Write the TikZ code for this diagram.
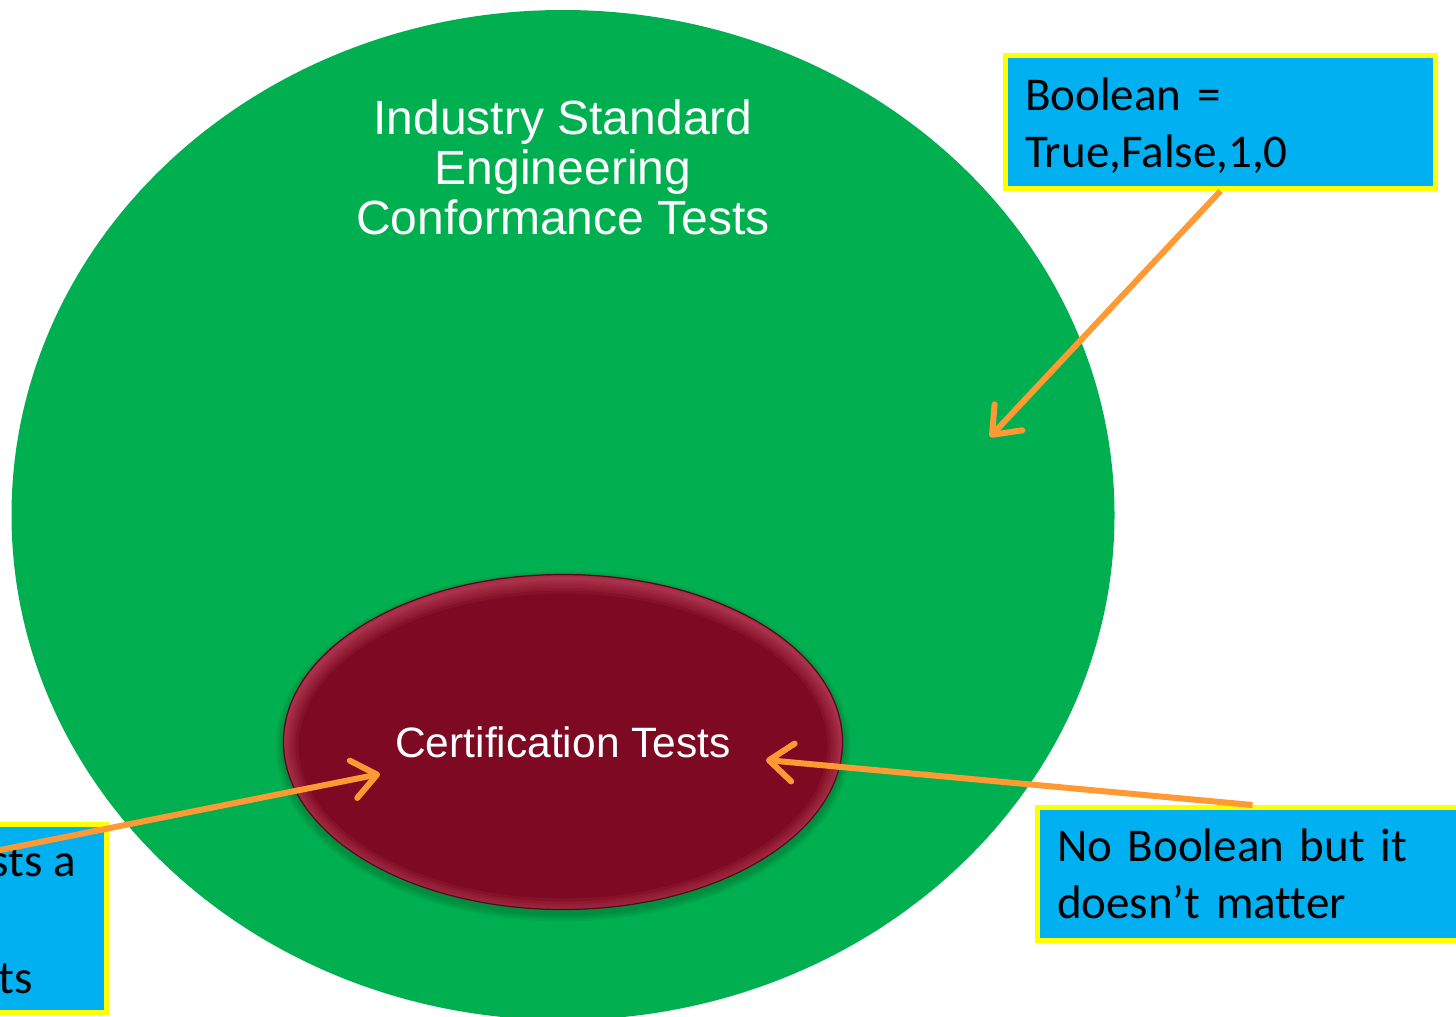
\documentclass[tikz,border=0pt]{standalone}
\usepackage{fontspec}
\setmainfont{Liberation Sans}
\newfontfamily\calibri[Ligatures=NoCommon]{Carlito}
\usetikzlibrary{arrows.meta,shapes.geometric}
\definecolor{cgreen}{HTML}{00B050}
\definecolor{cblue}{HTML}{00B0F0}
\definecolor{cyellow}{HTML}{FFFF00}
\definecolor{corange}{HTML}{FF9933}
\definecolor{cred}{HTML}{7D0A22}
\definecolor{cedge}{HTML}{D05470}
\definecolor{coutline}{HTML}{5A0616}
\begin{document}
\begin{tikzpicture}[x=1pt,y=-1pt,
  callout/.style={draw=cyellow, line width=5pt, fill=cblue, rectangle,
    minimum width=430pt, minimum height=133pt, inner xsep=19.5pt, inner ysep=0pt,
    text width=391pt, align=left, text=black,
    font=\calibri\fontsize{47pt}{57pt}\selectfont},
  callouttext/.style={inner sep=0pt, text=black, font=\calibri\fontsize{47pt}{57pt}\selectfont},
  pointer/.style={draw=corange, line width=6pt,
    -{Straight Barb[length=24pt,width=38pt,line cap=round,line join=round]}},
  whitetext/.style={text=white, inner sep=0pt},
]
\useasboundingbox (0,0) rectangle (1456,1017);
\fill[white] (0,0) rectangle (1456,1017);

% outer green ellipse
\node[ellipse, fill=cgreen, minimum width=1103pt, minimum height=1010pt, inner sep=0pt] (outer) at (563,515) {};
\node[whitetext, align=center, font=\fontsize{48pt}{50pt}\selectfont] (title) at (563,167)
  {Industry Standard\\Engineering\\Conformance Tests};

% soft shadow of the inner ellipse
\foreach \g in {2,4,6,8}
  \fill[black, opacity=0.05] (563,746) ellipse [x radius=279.5pt+\g pt, y radius=167.5pt+\g pt];

% inner red ellipse
\node[ellipse, fill=cred, minimum width=559pt, minimum height=335pt, inner sep=0pt] (cert) at (563,742) {};
\begin{scope}
  \clip (563,742) ellipse [x radius=279.5pt, y radius=167.5pt];
  \foreach \w in {30,24,19,14,10,6,3}
    \draw[cedge, opacity=0.11, line width=\w pt] (563,746) ellipse [x radius=279.5pt, y radius=167.5pt];
\end{scope}
\draw[coutline, line width=1.2pt] (563,742) ellipse [x radius=279.5pt, y radius=167.5pt];
\node[whitetext, font=\fontsize{42.5pt}{50pt}\selectfont] (certlabel) at (cert.center) {Certification Tests};

% callout boxes
\node[callout] (bool) at (1220.5,122) {\rule{0pt}{41pt}Boolean =\\True,False,1,0};
\node[callout] (nobool) at (1252.5,874) {No Boolean but it\\doesn’t matter};
\node[callout, minimum height=188pt] (conf) at (-108.5,918.5) {};
\node[callouttext, anchor=base east] (conf1) at (76,876) {sts a};
\node[callouttext, anchor=base east] (conf3) at (33,993) {ts};

% arrow ends
\coordinate (t1) at (990,437);
\coordinate (t2) at (766,760);
\coordinate (t3) at (380,774);
\coordinate (s3) at (-150,880);

\draw[pointer] (bool.south) -- (t1);
\draw[pointer] (nobool.north) -- (t2);
\draw[pointer] (s3) -- (t3);
\end{tikzpicture}
\end{document}
